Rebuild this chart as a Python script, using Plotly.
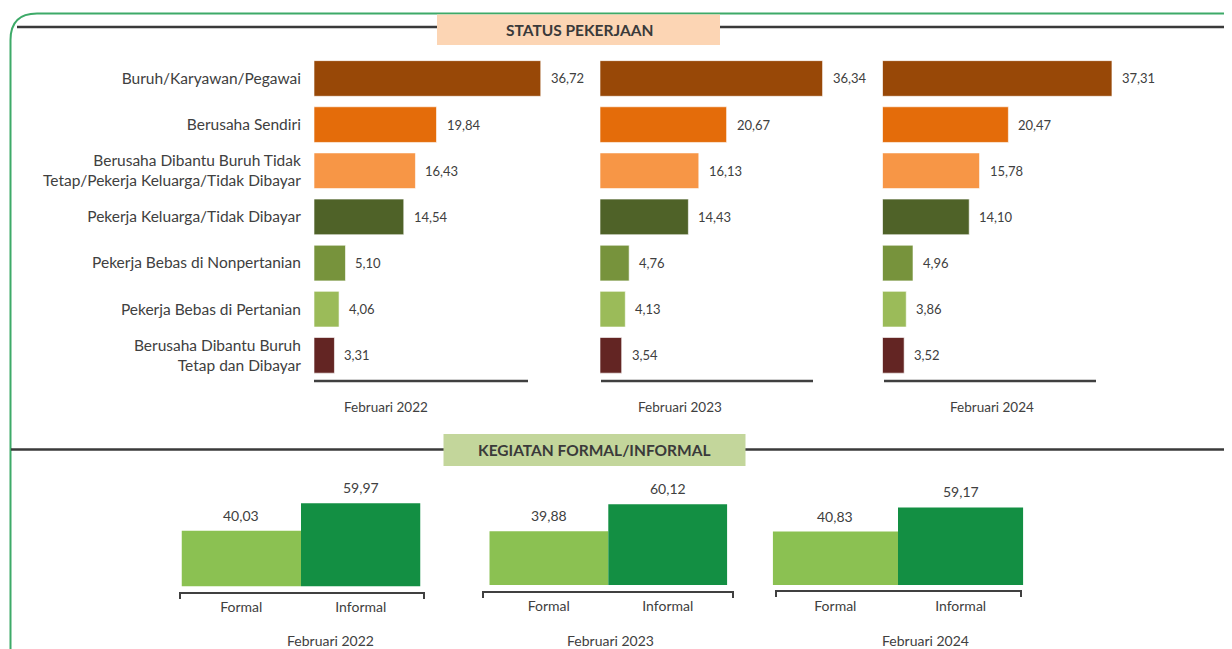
import plotly.graph_objects as go

W, H = 1232, 649
OFF = 8                      # default page margin of the browser body
FW, FH = W - OFF, H - OFF    # figure size so the figure fills the window

# ---------------- data ----------------
status_categories = [
    "Buruh/Karyawan/Pegawai",
    "Berusaha Sendiri",
    "Berusaha Dibantu Buruh Tidak Tetap/Pekerja Keluarga/Tidak Dibayar",
    "Pekerja Keluarga/Tidak Dibayar",
    "Pekerja Bebas di Nonpertanian",
    "Pekerja Bebas di Pertanian",
    "Berusaha Dibantu Buruh Tetap dan Dibayar",
]
status_labels = [
    "Buruh/Karyawan/Pegawai",
    "Berusaha Sendiri",
    "Berusaha Dibantu Buruh Tidak<br>Tetap/Pekerja Keluarga/Tidak Dibayar",
    "Pekerja Keluarga/Tidak Dibayar",
    "Pekerja Bebas di Nonpertanian",
    "Pekerja Bebas di Pertanian",
    "Berusaha Dibantu Buruh<br>Tetap dan Dibayar",
]
periods = ["Februari 2022", "Februari 2023", "Februari 2024"]
status_2022 = [36.72, 19.84, 16.43, 14.54, 5.10, 4.06, 3.31]
status_2023 = [36.34, 20.67, 16.13, 14.43, 4.76, 4.13, 3.54]
status_2024 = [37.31, 20.47, 15.78, 14.10, 4.96, 3.86, 3.52]
status_colors = ["#984807", "#E46C0A", "#F79646", "#4F6228", "#77933C", "#9BBB59", "#632523"]

activity_categories = ["Formal", "Informal"]
activity_2022 = [40.03, 59.97]
activity_2023 = [39.88, 60.12]
activity_2024 = [40.83, 59.17]
activity_colors = ["#8BC152", "#138F43"]

title_status = "STATUS PEKERJAAN"
title_activity = "KEGIATAN FORMAL/INFORMAL"

# ---------------- helpers (window pixels -> paper) ----------------
def px(x):
    return (x - OFF) / FW

def py(y):
    return 1 - (y - OFF) / FH

def fmt(v):
    return f"{v:.2f}".replace(".", ",")

FONT = "Lato"
TXT = "#404040"

fig = go.Figure()
annotations = []
shapes = []

# ---------------- horizontal bar panels ----------------
h_series = [status_2022, status_2023, status_2024]
h_xdom = [(314, 561), (600, 845), (882.5, 1128.5)]
h_ydom = (55.4, 378.4)
h_axisline = [(314, 528), (601, 813), (884, 1096)]
h_period_x = [386, 680, 992]

layout_axes = {}
for i, vals in enumerate(h_series):
    n = i + 1
    xa = "x" if n == 1 else f"x{n}"
    ya = "y" if n == 1 else f"y{n}"
    fig.add_trace(go.Bar(
        x=vals, y=status_categories, orientation="h",
        marker=dict(color=status_colors, line=dict(color="rgba(255,255,255,0.6)", width=1)),
        xaxis=xa, yaxis=ya, showlegend=False, hoverinfo="skip",
    ))
    layout_axes[f"xaxis{'' if n == 1 else n}"] = dict(
        domain=[px(h_xdom[i][0]), px(h_xdom[i][1])], range=[0, 40],
        visible=False, anchor=ya, fixedrange=True,
    )
    layout_axes[f"yaxis{'' if n == 1 else n}"] = dict(
        domain=[py(h_ydom[1]), py(h_ydom[0])], autorange="reversed",
        anchor=xa, showgrid=False, zeroline=False, showline=False,
        showticklabels=(n == 1), tickmode="array",
        tickvals=status_categories, ticktext=status_labels,
        ticks="outside" if n == 1 else "", ticklen=9, tickcolor="rgba(0,0,0,0)",
        tickfont=dict(family=FONT, size=15.5, color=TXT), fixedrange=True,
    )
    for cat, v in zip(status_categories, vals):
        annotations.append(dict(
            x=v, y=cat, xref=xa, yref=ya, text=fmt(v), showarrow=False,
            xanchor="left", yanchor="middle", xshift=8,
            font=dict(family=FONT, size=13, color=TXT),
        ))
    x0, x1 = h_axisline[i]
    shapes.append(dict(type="line", xref="paper", yref="paper",
                       x0=px(x0), x1=px(x1), y0=py(381), y1=py(381),
                       line=dict(color="#404040", width=2.5)))
    annotations.append(dict(
        x=px(h_period_x[i]), y=py(407), xref="paper", yref="paper",
        text=periods[i], showarrow=False, xanchor="center", yanchor="middle",
        font=dict(family=FONT, size=13.5, color=TXT),
    ))

# ---------------- vertical bar panels ----------------
v_series = [activity_2022, activity_2023, activity_2024]
v_xdom = [(181.5, 420.5), (489.3, 727.3), (772.7, 1023.3)]
v_bottom = [586.5, 585, 585]
v_scale = [1.39, 1.345, 1.31]
v_bracket = [(180, 424, 593), (483, 733, 592), (776, 1021, 591)]
v_period_x = [330, 610, 925]

for i, vals in enumerate(v_series):
    n = i + 4
    xa, ya = f"x{n}", f"y{n}"
    fig.add_trace(go.Bar(
        x=activity_categories, y=vals, marker=dict(color=activity_colors, line=dict(width=0)),
        xaxis=xa, yaxis=ya, showlegend=False, hoverinfo="skip", width=1.0,
    ))
    top = v_bottom[i] - 70 * v_scale[i]
    layout_axes[f"xaxis{n}"] = dict(
        domain=[px(v_xdom[i][0]), px(v_xdom[i][1])], range=[-0.5, 1.5],
        anchor=ya, showgrid=False, zeroline=False, showline=False,
        ticks="outside", ticklen=8, tickcolor="rgba(0,0,0,0)",
        tickfont=dict(family=FONT, size=14, color=TXT), fixedrange=True,
    )
    layout_axes[f"yaxis{n}"] = dict(
        domain=[py(v_bottom[i]), py(top)], range=[0, 70],
        anchor=xa, visible=False, fixedrange=True,
    )
    for cat, v in zip(activity_categories, vals):
        annotations.append(dict(
            x=cat, y=v, xref=xa, yref=ya, text=fmt(v), showarrow=False,
            xanchor="center", yanchor="bottom", yshift=5,
            font=dict(family=FONT, size=14, color=TXT),
        ))
    bx0, bx1, by = v_bracket[i]
    shapes.append(dict(
        type="path", xref="paper", yref="paper",
        path=f"M {px(bx0)},{py(by + 6)} L {px(bx0)},{py(by)} L {px(bx1)},{py(by)} L {px(bx1)},{py(by + 6)}",
        line=dict(color="#404040", width=2),
    ))
    annotations.append(dict(
        x=px(v_period_x[i]), y=py(640.5), xref="paper", yref="paper",
        text=periods[i], showarrow=False, xanchor="center", yanchor="middle",
        font=dict(family=FONT, size=14, color=TXT),
    ))

# ---------------- frame, section lines and headers ----------------
shapes.insert(0, dict(
    type="path", xref="paper", yref="paper",
    path=(f"M {px(10.5)},{py(680)} L {px(10.5)},{py(40)} "
          f"Q {px(10.5)},{py(13.5)} {px(37)},{py(13.5)} L {px(1260)},{py(13.5)}"),
    line=dict(color="#3DAA68", width=2),
))
shapes.append(dict(type="line", xref="paper", yref="paper",
                   x0=px(17), x1=px(1240), y0=py(27), y1=py(27),
                   line=dict(color="#3a3a3a", width=2.5)))
shapes.append(dict(type="line", xref="paper", yref="paper",
                   x0=px(11), x1=px(1240), y0=py(449.5), y1=py(449.5),
                   line=dict(color="#3a3a3a", width=2.5)))
shapes.append(dict(type="rect", xref="paper", yref="paper",
                   x0=px(437), x1=px(720), y0=py(45), y1=py(14.5),
                   fillcolor="#FCD5B4", line=dict(width=0)))
shapes.append(dict(type="rect", xref="paper", yref="paper",
                   x0=px(443.5), x1=px(745.5), y0=py(466), y1=py(434),
                   fillcolor="#C3D69B", line=dict(width=0)))
annotations.append(dict(x=px(579), y=py(30), xref="paper", yref="paper",
                        text=f"<b>{title_status}</b>", showarrow=False,
                        xanchor="center", yanchor="middle",
                        font=dict(family=FONT, size=15.5, color="#3a3a3a")))
annotations.append(dict(x=px(594), y=py(450), xref="paper", yref="paper",
                        text=f"<b>{title_activity}</b>", showarrow=False,
                        xanchor="center", yanchor="middle",
                        font=dict(family=FONT, size=15.5, color="#3a3a3a")))

fig.update_layout(
    width=FW, height=FH, autosize=False,
    margin=dict(l=0, r=0, t=0, b=0),
    paper_bgcolor="white", plot_bgcolor="rgba(0,0,0,0)",
    bargap=0.227, showlegend=False,
    annotations=annotations, shapes=shapes,
    font=dict(family=FONT, color=TXT),
    **layout_axes,
)

fig.write_html("out.html", config={"displayModeBar": False})
